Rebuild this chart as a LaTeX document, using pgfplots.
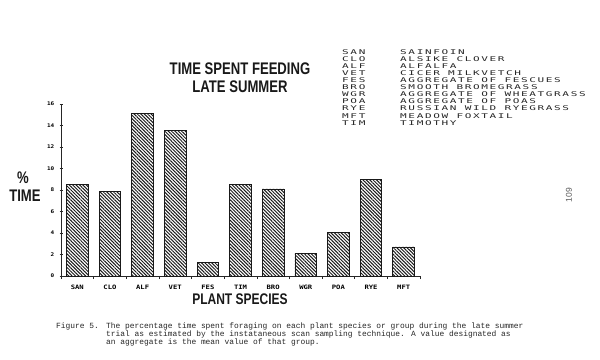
\documentclass[border=0pt]{standalone}
\usepackage{fontspec}
\setmainfont{Liberation Sans}
\usepackage{pgfplots}
\pgfplotsset{compat=1.18}
\usetikzlibrary{patterns.meta}
\newfontfamily\condfont[FakeStretch=0.78]{Liberation Sans}
\newfontfamily\dotfont[FakeStretch=1.7,LetterSpace=25]{DejaVu Sans Mono}
\newfontfamily\tickfont[FakeStretch=1.2]{DejaVu Sans Mono}
\newfontfamily\capfont{Liberation Mono}
\newcommand{\bigfont}{\condfont\bfseries\fontsize{16.8bp}{18bp}\selectfont}
\begin{document}
\begin{tikzpicture}
\useasboundingbox (0,0) rectangle (600bp,-360bp);
\begin{axis}[
  at={(61bp,-276bp)}, anchor=south west,
  scale only axis, width=359bp, height=172bp,
  xmin=-0.5, xmax=10.5, ymin=0, ymax=16,
  axis x line*=bottom, axis y line*=left,
  x axis line style={-, line width=0.8bp, black!85},
  y axis line style={-, line width=0.8bp, black!85},
  ytick={0,2,...,16},
  xtick={0,...,10},
  xticklabels={SAN,CLO,ALF,VET,FES,TIM,BRO,WGR,POA,RYE,MFT},
  minor xtick={-0.5,0.5,...,10.5},
  major x tick style={draw=none},
  tick style={black!85, line width=0.6bp},
  major tick length=3bp, minor tick length=3bp, tick align=center,
  /pgf/number format/assume math mode=true,
  yticklabel style={font=\tickfont\bfseries\fontsize{5bp}{5bp}\selectfont, inner sep=0pt, xshift=-5bp},
  xticklabel style={font=\tickfont\bfseries\fontsize{6bp}{6bp}\selectfont, inner sep=0pt, yshift=-6bp},
  ybar, bar width=21.7bp, bar shift=0bp,
  clip=false,
]
\addplot[draw=black!90, line width=0.8bp,
  pattern={Lines[angle=-45,distance=2.4bp,line width=1bp]}, pattern color=black!90]
  coordinates {(0,8.5) (1,7.85) (2,15.1) (3,13.5) (4,1.3) (5,8.5) (6,8.1) (7,2.1) (8,4.05) (9,9.0) (10,2.7)};
\end{axis}
% titles
\node[inner sep=0pt, text=black!90] at (240bp,-69bp) {\bigfont TIME SPENT FEEDING};
\node[inner sep=0pt, text=black!90] at (240bp,-87bp) {\bigfont LATE SUMMER};
\node[inner sep=0pt, text=black!90] at (23bp,-178bp) {\bigfont \%};
\node[inner sep=0pt, text=black!90] at (25bp,-196bp) {\bigfont TIME};
\node[inner sep=0pt, text=black!90] at (240bp,-299bp) {\condfont\bfseries\fontsize{15.4bp}{16bp}\selectfont PLANT SPECIES};
% legend
\begin{scope}[every node/.style={inner sep=0pt, anchor=west, text=black!85, font=\dotfont\fontsize{6.5bp}{6.5bp}\selectfont}]
\node at (342bp,-52.3bp) {SAN}; \node at (400bp,-52.3bp) {SAINFOIN};
\node at (342bp,-59.3bp) {CLO}; \node at (400bp,-59.3bp) {ALSIKE CLOVER};
\node at (342bp,-66.4bp) {ALF}; \node at (400bp,-66.4bp) {ALFALFA};
\node at (342bp,-73.4bp) {VET}; \node at (400bp,-73.4bp) {CICER MILKVETCH};
\node at (342bp,-80.5bp) {FES}; \node at (400bp,-80.5bp) {AGGREGATE OF FESCUES};
\node at (342bp,-87.5bp) {BRO}; \node at (400bp,-87.5bp) {SMOOTH BROMEGRASS};
\node at (342bp,-94.5bp) {WGR}; \node at (400bp,-94.5bp) {AGGREGATE OF WHEATGRASS};
\node at (342bp,-101.6bp) {POA}; \node at (400bp,-101.6bp) {AGGREGATE OF POAS};
\node at (342bp,-108.6bp) {RYE}; \node at (400bp,-108.6bp) {RUSSIAN WILD RYEGRASS};
\node at (342bp,-115.7bp) {MFT}; \node at (400bp,-115.7bp) {MEADOW FOXTAIL};
\node at (342bp,-122.7bp) {TIM}; \node at (400bp,-122.7bp) {TIMOTHY};
\end{scope}
% page number
\node[inner sep=0pt, rotate=90, text=black!65, font=\fontsize{8.5bp}{8.5bp}\selectfont] at (569bp,-195bp) {109};
% caption
\begin{scope}[every node/.style={inner sep=0pt, anchor=base west, text=black!85, font=\capfont\fontsize{7.9bp}{8bp}\selectfont}]
\node at (56bp,-328bp) {Figure 5.};
\node at (106bp,-328bp) {The percentage time spent foraging on each plant species or group during the late summer};
\node at (106bp,-336bp) {trial as estimated by the instataneous scan sampling technique.  A value designated as};
\node at (106bp,-344bp) {an aggregate is the mean value of that group.};
\end{scope}
\end{tikzpicture}
\end{document}
